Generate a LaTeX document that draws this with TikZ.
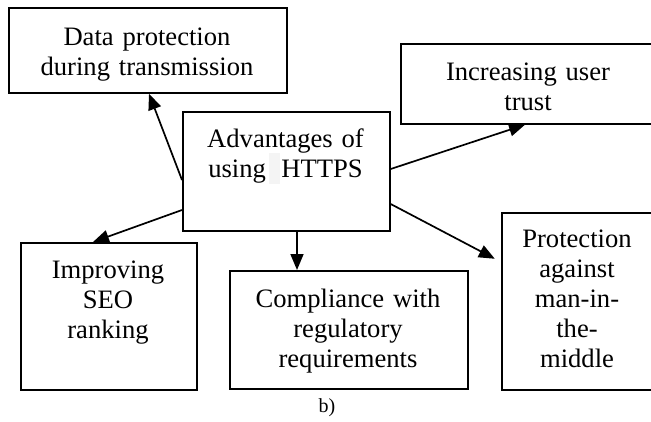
\documentclass[tikz,border=0pt]{standalone}
\usepackage{fontspec}
\setmainfont{Liberation Serif}
\usetikzlibrary{arrows.meta,calc}
\tikzset{
  box/.style={draw=black, line width=1.7pt, rectangle, inner sep=0pt, anchor=north west},
  txt/.style={anchor=base, text width=260pt, align=center, inner sep=0pt,
    font=\fontsize{26.6pt}{30pt}\selectfont},
  conn/.style={line width=1.7pt, -{Triangle[length=16pt,width=13pt]}},
}
\begin{document}
\begin{tikzpicture}[x=1pt,y=-1pt]
\useasboundingbox (0,0) rectangle (651,421);
\clip (0,0) rectangle (651,421);
% boxes
\node[box, minimum width=278pt, minimum height=85pt] (data) at (8,7) {};
\node[box, minimum width=207pt, minimum height=119pt] (adv) at (182,111) {};
\node[box, minimum width=256pt, minimum height=80pt] (trust) at (400,43) {};
\node[box, minimum width=176pt, minimum height=147pt] (seo) at (20,242) {};
\node[box, minimum width=238pt, minimum height=118pt] (comp) at (229,270) {};
\node[box, minimum width=152pt, minimum height=177pt] (prot) at (501,212) {};
% light highlight behind the space
\fill[gray!9] (269,153) rectangle (280,184);
% texts
\node[txt] (tdata) at (147,45) {Data protection\\during transmission};
\node[txt] (tadv) at (285.5,147) {Advantages of\\using\hspace{0.25em} HTTPS};
\node[txt] (ttrust) at (528,80) {Increasing user\\trust};
\node[txt] (tseo) at (108,278) {Improving\\SEO\\ranking};
\node[txt] (tcomp) at (348,307) {Compliance with\\regulatory\\requirements};
\node[txt] (tprot) at (577,247) {Protection\\against\\man-in-\\the-\\middle};
\node[anchor=base, inner sep=0pt, font=\fontsize{20pt}{24pt}\selectfont] (lab) at (327,412) {b)};
% connectors
\draw[conn] ($(adv.north west)+(0,69)$) -- ($(data.south west)+(141,0)$);
\draw[conn] ($(adv.north east)+(0,58)$) -- ($(trust.south west)+(125,0)$);
\draw[conn] ($(adv.north west)+(0,99)$) -- ($(seo.north west)+(73,0)$);
\draw[conn] ($(adv.south west)+(115,0)$) -- ($(comp.north west)+(68,0)$);
\draw[conn, shorten >=7pt] ($(adv.north east)+(0,93)$) -- ($(prot.north west)+(0,50)$);
\end{tikzpicture}
\end{document}
